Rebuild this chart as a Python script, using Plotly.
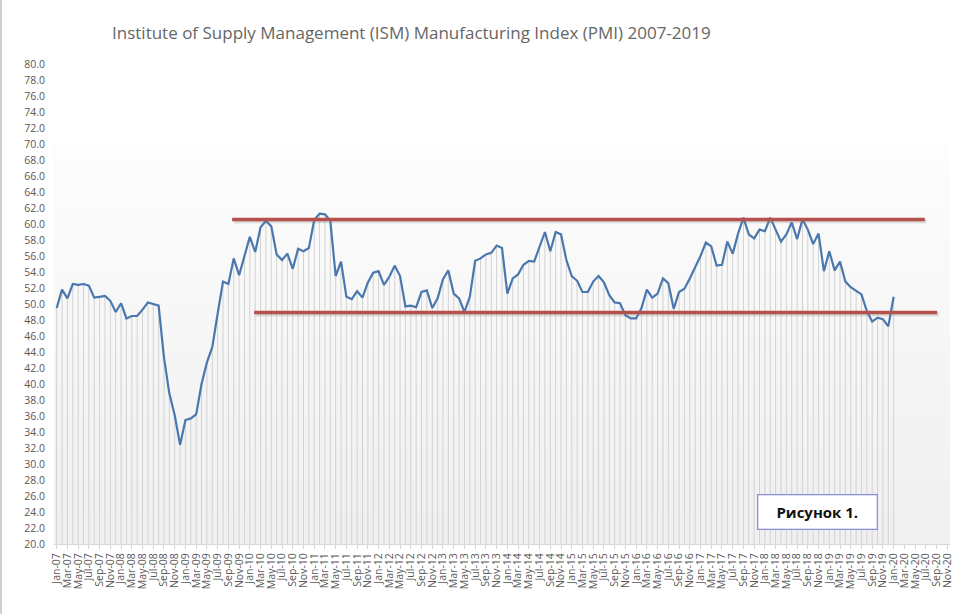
import plotly.graph_objects as go

# ---- data ----
month_names = ["Jan", "Feb", "Mar", "Apr", "May", "Jun",
               "Jul", "Aug", "Sep", "Oct", "Nov", "Dec"]
years = list(range(2007, 2021))
categories = [f"{m}-{str(y)[2:]}" for y in years for m in month_names][:-1]  # Jan-07 .. Nov-20

pmi_2007 = [49.5, 51.8, 50.7, 52.5, 52.4, 52.5, 52.3, 50.8, 50.9, 51.0, 50.4, 49.0]
pmi_2008 = [50.1, 48.2, 48.5, 48.5, 49.3, 50.2, 50.0, 49.8, 43.3, 38.8, 36.1, 32.4]
pmi_2009 = [35.5, 35.7, 36.2, 40.0, 42.7, 44.6, 48.8, 52.8, 52.5, 55.7, 53.6, 55.9]
pmi_2010 = [58.4, 56.5, 59.6, 60.4, 59.7, 56.2, 55.5, 56.3, 54.4, 56.9, 56.6, 57.0]
pmi_2011 = [60.5, 61.3, 61.2, 60.4, 53.5, 55.3, 50.9, 50.6, 51.6, 50.8, 52.7, 53.9]
pmi_2012 = [54.1, 52.4, 53.4, 54.8, 53.5, 49.7, 49.8, 49.6, 51.5, 51.7, 49.5, 50.7]
pmi_2013 = [53.1, 54.2, 51.3, 50.7, 49.0, 50.9, 55.4, 55.7, 56.2, 56.4, 57.3, 57.0]
pmi_2014 = [51.3, 53.2, 53.7, 54.9, 55.4, 55.3, 57.1, 59.0, 56.6, 59.0, 58.7, 55.5]
pmi_2015 = [53.5, 52.9, 51.5, 51.5, 52.8, 53.5, 52.7, 51.1, 50.2, 50.1, 48.6, 48.2]
pmi_2016 = [48.2, 49.5, 51.8, 50.8, 51.3, 53.2, 52.6, 49.4, 51.5, 51.9, 53.2, 54.5]
pmi_2017 = [56.0, 57.7, 57.2, 54.8, 54.9, 57.8, 56.3, 58.8, 60.8, 58.7, 58.2, 59.3]
pmi_2018 = [59.1, 60.8, 59.3, 57.8, 58.7, 60.2, 58.1, 60.6, 59.3, 57.5, 58.8, 54.1]
pmi_2019 = [56.6, 54.2, 55.3, 52.8, 52.1, 51.7, 51.2, 49.1, 47.8, 48.3, 48.1, 47.2]
pmi_2020 = [50.9]

pmi = (pmi_2007 + pmi_2008 + pmi_2009 + pmi_2010 + pmi_2011 + pmi_2012 + pmi_2013
       + pmi_2014 + pmi_2015 + pmi_2016 + pmi_2017 + pmi_2018 + pmi_2019 + pmi_2020)

y_min, y_max, y_step = 20, 80, 2
upper_level = 60.55
lower_level = 48.93

title_text = "Institute of Supply Management (ISM) Manufacturing Index (PMI) 2007-2019"
box_text = "Рисунок 1."

# ---- build ----
x_idx = list(range(len(pmi)))
n_cat = len(categories)

drop_x, drop_y = [], []
for i, v in zip(x_idx, pmi):
    drop_x += [i, i, None]
    drop_y += [y_min, v, None]

fig = go.Figure()

# background gradient (plot area fill)
n_bands = 25
for k in range(n_bands):
    y0 = y_min + (70 - y_min) * k / n_bands
    y1 = y_min + (70 - y_min) * (k + 1) / n_bands
    t = k / (n_bands - 1)
    c = int(240 + (253 - 240) * t)
    fig.add_shape(type="rect", xref="x", yref="y", x0=-0.5, x1=n_cat - 0.5,
                  y0=y0, y1=y1, fillcolor=f"rgb({c},{c},{c})",
                  line=dict(width=0), layer="below")

fig.add_trace(go.Scatter(x=drop_x, y=drop_y, mode="lines",
                         line=dict(color="#d2d2d2", width=1),
                         hoverinfo="skip", showlegend=False))
fig.add_trace(go.Scatter(x=x_idx, y=pmi, mode="lines",
                         line=dict(color="#4a78ae", width=2.2),
                         showlegend=False, name="PMI"))

# red horizontal level lines (with soft shadow)
for (xa, xb, lvl) in [(32.7, 161.8, upper_level), (36.8, 164.1, lower_level)]:
    fig.add_shape(type="line", xref="x", yref="y", x0=xa + 0.3, x1=xb + 0.3,
                  y0=lvl - 0.22, y1=lvl - 0.22,
                  line=dict(color="rgba(120,120,120,0.25)", width=4))
    fig.add_shape(type="line", xref="x", yref="y", x0=xa, x1=xb, y0=lvl, y1=lvl,
                  line=dict(color="#b5504d", width=3.5))

# text box
fig.add_annotation(xref="paper", yref="paper", x=(817 - 54) / 896, y=(544 - 511.5) / 480,
                   xanchor="center", yanchor="middle",
                   text=f"<b>{box_text}</b>", showarrow=False,
                   font=dict(family="Open Sans, Liberation Sans, sans-serif", size=15, color="#111111"),
                   bgcolor="white", bordercolor="#8f8fd6", borderwidth=1.3,
                   width=114, height=29, borderpad=2)

# left chart border
fig.add_shape(type="line", xref="paper", yref="paper", x0=-53 / 896, x1=-53 / 896,
              y0=-70 / 480, y1=1 + 64 / 480, line=dict(color="#d0d0d0", width=2))

tickvals = list(range(0, n_cat, 2))
ticktext = [categories[i] for i in tickvals]

fig.update_layout(
    width=973, height=614,
    margin=dict(l=54, r=23, t=64, b=70),
    paper_bgcolor="white", plot_bgcolor="white",
    title=dict(text=title_text, x=112 / 973, xanchor="left", xref="container",
               y=1 - 33 / 614, yanchor="middle", yref="container",
               font=dict(family="Open Sans, Liberation Sans, sans-serif", size=17, color="#666666")),
    font=dict(family="Open Sans, Liberation Sans, sans-serif", color="#595959"),
    showlegend=False,
)
fig.update_xaxes(range=[-0.5, n_cat - 0.5], tickmode="array", tickvals=tickvals, ticktext=ticktext,
                 tickangle=-90, tickfont=dict(size=10.5, color="#595959"),
                 showgrid=False, zeroline=False, showline=True, linecolor="#d9d9d9", linewidth=1,
                 ticks="outside", ticklen=4, tickcolor="#d0d0d0")
fig.update_yaxes(range=[y_min, y_max], dtick=y_step, tick0=y_min, tickformat=".1f",
                 tickfont=dict(size=10.5, color="#595959"), showgrid=False, zeroline=False,
                 showline=False, ticks="", ticklabelstandoff=8)

fig.write_html("out.html", config={"displayModeBar": False},
               post_script="document.body.style.margin='0';")
